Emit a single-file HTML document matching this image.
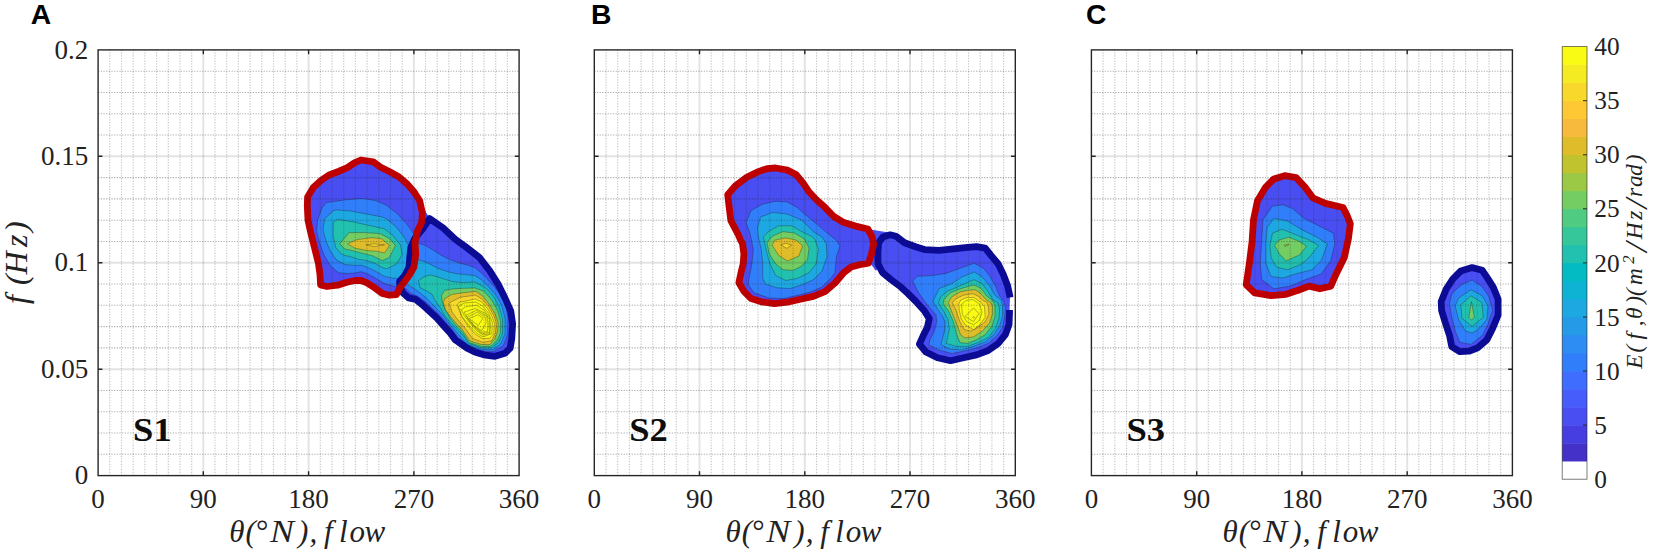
<!DOCTYPE html><html><head><meta charset="utf-8"><title>Figure</title><style>html,body{margin:0;padding:0;background:#fff}svg{display:block}text{font-family:"Liberation Serif","DejaVu Serif",serif;fill:#222}.it{font-style:italic}.tk{font-size:27px}</style></head><body>
<svg width="1654" height="553" viewBox="0 0 1654 553">
<rect width="1654" height="553" fill="#fff"/>
<g>
<clipPath id="cAr"><polygon points="360.9,160.0 373.2,161.8 380.3,167.0 389.7,171.7 399.1,177.0 407.3,184.1 414.3,192.3 419.6,200.5 422.4,213.1 421.7,222.1 417.5,231.2 415.1,242.0 415.7,254.7 413.9,267.3 408.5,276.4 400.3,287.2 396.4,294.6 389.3,295.2 382.3,293.5 375.2,288.2 367.0,282.9 361.1,280.5 355.2,280.5 347.0,282.3 337.6,285.2 327.0,286.5 320.6,285.0 320.0,274.6 318.5,263.7 315.8,252.9 313.1,242.0 310.4,231.2 308.0,220.3 307.3,205.8 307.6,197.0 313.3,187.6 321.5,180.0 329.7,174.7 339.1,171.2 347.4,167.6 354.4,162.9"/></clipPath>
<polygon points="360.9,160.0 373.2,161.8 380.3,167.0 389.7,171.7 399.1,177.0 407.3,184.1 414.3,192.3 419.6,200.5 422.4,213.1 421.7,222.1 417.5,231.2 415.1,242.0 415.7,254.7 413.9,267.3 408.5,276.4 400.3,287.2 396.4,294.6 389.3,295.2 382.3,293.5 375.2,288.2 367.0,282.9 361.1,280.5 355.2,280.5 347.0,282.3 337.6,285.2 327.0,286.5 320.6,285.0 320.0,274.6 318.5,263.7 315.8,252.9 313.1,242.0 310.4,231.2 308.0,220.3 307.3,205.8 307.6,197.0 313.3,187.6 321.5,180.0 329.7,174.7 339.1,171.2 347.4,167.6 354.4,162.9" fill="#484ef1"/>
<g clip-path="url(#cAr)">
<polygon points="322.1,207.7 326.4,202.6 345.0,199.9 362.0,198.4 375.6,200.5 385.8,204.9 396.7,213.1 407.5,224.8 413.9,233.9 425.0,240.0 425.0,285.0 400.0,288.0 392.8,285.8 384.6,283.5 376.4,278.8 368.2,274.1 361.1,271.7 355.2,272.9 347.0,273.5 338.4,272.8 330.3,265.5 323.9,254.7 319.4,242.0 316.7,231.2 317.6,220.3" fill="#317efb" stroke="#1a1a1a" stroke-opacity="0.5" stroke-width="0.65" stroke-linejoin="round"/>
<polygon points="333.9,210.4 336.8,209.9 350.9,211.1 363.8,213.5 381.6,216.9 385.8,218.5 394.9,225.7 403.9,236.6 409.4,247.4 425.0,250.0 425.0,280.0 402.0,278.5 392.8,278.2 384.6,276.4 377.6,272.3 369.3,268.2 362.3,265.3 355.2,265.3 345.0,264.6 336.6,260.1 330.3,251.1 325.7,240.2 323.0,229.4 324.8,218.5" fill="#1ea8e1" stroke="#1a1a1a" stroke-opacity="0.5" stroke-width="0.65" stroke-linejoin="round"/>
<polygon points="337.5,219.4 352.3,221.7 367.0,225.0 381.6,228.2 384.0,228.5 393.1,235.7 400.3,244.7 402.1,254.7 396.7,263.7 387.0,268.8 382.3,267.6 375.2,263.5 367.0,260.6 358.8,259.4 349.4,256.3 345.0,255.6 341.1,253.8 335.7,247.4 333.0,234.8 333.3,222.1" fill="#22c1af" stroke="#1a1a1a" stroke-opacity="0.5" stroke-width="0.65" stroke-linejoin="round"/>
<polygon points="339.8,243.8 349.1,232.6 363.7,232.6 380.0,233.6 389.7,238.8 395.4,245.5 389.3,257.6 382.3,260.6 372.9,255.9 361.1,252.9 349.4,249.9 345.0,249.2" fill="#73cd63" stroke="#1a1a1a" stroke-opacity="0.5" stroke-width="0.65" stroke-linejoin="round"/>
<polygon points="347.6,243.8 357.2,239.6 371.8,237.7 381.6,238.8 389.4,245.5 384.6,252.9 376.4,251.2 367.0,250.6 355.2,248.2" fill="#dfbc2a" stroke="#1a1a1a" stroke-opacity="0.5" stroke-width="0.65" stroke-linejoin="round"/>
<polygon points="365.8,244.9 374.0,243.8 384.6,244.9 374.0,246.5" fill="#f8d92b" stroke="#1a1a1a" stroke-opacity="0.5" stroke-width="0.65" stroke-linejoin="round"/>
</g>
<clipPath id="cAb"><polygon points="429.6,218.6 442.9,227.7 455.2,239.3 465.6,246.8 479.1,257.2 489.6,270.6 498.8,285.4 505.2,298.5 510.8,311.2 512.6,323.7 511.8,338.4 510.2,348.1 505.0,353.3 495.0,356.3 483.8,354.8 474.8,351.9 467.1,348.1 459.0,342.4 455.3,340.0 450.4,333.2 443.3,325.4 436.8,318.0 429.7,311.5 422.7,305.0 415.6,299.3 408.6,297.9 403.1,293.0 400.0,287.5 399.5,281.5 404.8,275.5 409.0,267.3 409.7,258.3 410.8,247.4 414.8,238.4 422.9,228.5 420.5,204.0 431.0,220.0 422.0,224.0"/></clipPath>
<polygon points="429.6,218.6 442.9,227.7 455.2,239.3 465.6,246.8 479.1,257.2 489.6,270.6 498.8,285.4 505.2,298.5 510.8,311.2 512.6,323.7 511.8,338.4 510.2,348.1 505.0,353.3 495.0,356.3 483.8,354.8 474.8,351.9 467.1,348.1 459.0,342.4 455.3,340.0 450.4,333.2 443.3,325.4 436.8,318.0 429.7,311.5 422.7,305.0 415.6,299.3 408.6,297.9 403.1,293.0 400.0,287.5 399.5,281.5 404.8,275.5 409.0,267.3 409.7,258.3 410.8,247.4 414.8,238.4 422.9,228.5" fill="#484ef1"/>
<polygon points="420.5,204.0 431.0,220.0 422.0,224.0" fill="#484ef1"/>
<g clip-path="url(#cAb)">
<polygon points="395.0,236.0 425.0,245.3 432.6,249.7 441.5,255.4 450.3,259.8 459.2,263.0 468.0,265.2 475.5,268.0 484.0,275.3 493.6,286.0 500.5,294.4 505.4,304.8 508.0,317.9 507.7,334.4 503.2,345.8 493.7,351.5 481.7,350.8 467.7,346.5 459.4,339.3 452.9,330.6 446.0,322.3 439.5,314.7 433.0,308.8 425.4,301.7 417.8,296.3 411.3,293.6 405.9,288.7 395.0,285.0" fill="#317efb" stroke="#1a1a1a" stroke-opacity="0.5" stroke-width="0.65" stroke-linejoin="round"/>
<polygon points="395.0,253.0 425.0,261.7 431.3,264.9 438.9,268.7 447.8,271.8 456.6,273.7 465.5,274.6 475.0,275.6 481.7,280.0 489.3,287.5 496.9,296.4 502.0,306.5 505.1,318.5 505.1,333.7 500.7,343.9 493.1,349.6 481.7,349.3 468.6,345.0 461.2,337.6 454.7,330.0 448.5,322.6 442.8,314.7 437.3,309.3 430.8,302.3 424.3,296.3 416.7,290.3 409.1,285.4 395.0,280.0" fill="#1ea8e1" stroke="#1a1a1a" stroke-opacity="0.5" stroke-width="0.65" stroke-linejoin="round"/>
<polygon points="418.5,280.5 425.0,276.3 430.7,275.0 437.7,276.9 445.3,279.4 452.8,281.7 463.0,282.6 475.0,282.0 486.8,288.8 494.4,297.7 499.4,307.8 502.6,319.2 502.6,333.1 498.8,342.0 491.8,347.7 481.7,347.9 468.8,343.5 463.5,335.8 457.6,329.8 451.0,323.3 445.0,315.7 440.6,308.2 435.2,300.6 431.9,294.1 426.5,290.9 420.0,287.6" fill="#22c1af" stroke="#1a1a1a" stroke-opacity="0.5" stroke-width="0.65" stroke-linejoin="round"/>
<polygon points="441.5,295.5 444.5,290.5 452.8,288.9 463.0,288.3 475.0,287.9 484.2,291.3 491.8,300.2 497.5,310.3 500.7,321.7 500.3,333.1 496.9,340.7 490.6,346.3 481.7,346.4 469.5,342.8 462.4,332.0 455.9,325.5 449.8,317.5 445.2,310.1 442.2,301.7" fill="#73cd63" stroke="#1a1a1a" stroke-opacity="0.5" stroke-width="0.65" stroke-linejoin="round"/>
<polygon points="443.3,302.3 444.9,298.5 451.5,294.6 458.0,293.4 476.0,291.3 483.0,296.4 489.9,305.3 495.0,314.1 498.2,323.0 497.5,331.8 495.0,338.2 489.9,344.5 481.7,344.6 470.0,341.0 462.2,329.5 457.3,324.6 451.0,317.3 445.5,309.8" fill="#dfbc2a" stroke="#1a1a1a" stroke-opacity="0.5" stroke-width="0.65" stroke-linejoin="round"/>
<polygon points="449.3,303.3 451.5,301.7 460.1,297.4 475.4,295.1 481.7,298.9 488.7,306.5 493.7,315.4 496.3,323.0 495.6,332.5 491.8,340.6 483.0,342.4 472.6,338.4 462.9,325.5 458.0,320.1 452.0,312.0" fill="#f8d92b" stroke="#1a1a1a" stroke-opacity="0.5" stroke-width="0.65" stroke-linejoin="round"/>
<polygon points="457.4,305.0 459.1,302.3 465.0,301.2 475.4,298.9 481.7,302.1 487.4,308.4 491.8,316.0 494.4,323.6 493.7,333.7 489.9,338.2 483.0,338.8 475.4,334.4 468.5,326.5 463.0,318.5 459.5,311.0" fill="#f9fb15" stroke="#1a1a1a" stroke-opacity="0.5" stroke-width="0.65" stroke-linejoin="round"/>
<polygon points="458.3,306.5 464.0,303.0 476.0,302.1 483.0,306.3 488.7,313.5 492.5,323.0 491.8,333.7 483.0,336.9 476.6,333.1 469.1,325.5 462.1,316.6" fill="#f9fb15" stroke="#1a1a1a" stroke-opacity="0.5" stroke-width="0.65" stroke-linejoin="round"/>
<polygon points="461.5,309.7 465.9,306.5 476.6,305.3 484.2,310.3 489.3,316.6 490.6,325.5 489.9,333.7 483.0,335.0 477.3,331.2 470.3,323.6 464.0,315.4" fill="#f9fb15" stroke="#1a1a1a" stroke-opacity="0.5" stroke-width="0.65" stroke-linejoin="round"/>
<polygon points="464.0,312.2 475.4,308.4 485.5,313.5 489.3,319.2 489.3,332.5 482.3,333.7 476.6,329.3 469.7,321.7" fill="#f9fb15" stroke="#1a1a1a" stroke-opacity="0.5" stroke-width="0.65" stroke-linejoin="round"/>
<polygon points="465.9,315.4 476.6,310.3 486.8,316.0 488.0,323.0 487.4,331.8 481.7,332.1 475.4,327.4" fill="#f9fb15" stroke="#1a1a1a" stroke-opacity="0.5" stroke-width="0.65" stroke-linejoin="round"/>
<polygon points="467.2,317.3 477.3,312.2 485.5,317.3 486.1,323.0 481.7,330.6 474.7,326.1" fill="#f9fb15" stroke="#1a1a1a" stroke-opacity="0.5" stroke-width="0.65" stroke-linejoin="round"/>
<polygon points="469.1,318.5 477.9,314.7 483.0,318.2 478.2,325.5" fill="#f9fb15" stroke="#1a1a1a" stroke-opacity="0.5" stroke-width="0.65" stroke-linejoin="round"/>
</g>
<polygon points="429.6,218.6 442.9,227.7 455.2,239.3 465.6,246.8 479.1,257.2 489.6,270.6 498.8,285.4 505.2,298.5 510.8,311.2 512.6,323.7 511.8,338.4 510.2,348.1 505.0,353.3 495.0,356.3 483.8,354.8 474.8,351.9 467.1,348.1 459.0,342.4 455.3,340.0 450.4,333.2 443.3,325.4 436.8,318.0 429.7,311.5 422.7,305.0 415.6,299.3 408.6,297.9 403.1,293.0 400.0,287.5 399.5,281.5 404.8,275.5 409.0,267.3 409.7,258.3 410.8,247.4 414.8,238.4 422.9,228.5" fill="none" stroke="#0b0b96" stroke-width="6.8" stroke-linejoin="round"/>
<polygon points="360.9,160.0 373.2,161.8 380.3,167.0 389.7,171.7 399.1,177.0 407.3,184.1 414.3,192.3 419.6,200.5 422.4,213.1 421.7,222.1 417.5,231.2 415.1,242.0 415.7,254.7 413.9,267.3 408.5,276.4 400.3,287.2 396.4,294.6 389.3,295.2 382.3,293.5 375.2,288.2 367.0,282.9 361.1,280.5 355.2,280.5 347.0,282.3 337.6,285.2 327.0,286.5 320.6,285.0 320.0,274.6 318.5,263.7 315.8,252.9 313.1,242.0 310.4,231.2 308.0,220.3 307.3,205.8 307.6,197.0 313.3,187.6 321.5,180.0 329.7,174.7 339.1,171.2 347.4,167.6 354.4,162.9" fill="none" stroke="#c00000" stroke-width="6.8" stroke-linejoin="round"/>
</g>
<line x1="109.8" y1="49.9" x2="109.8" y2="475.6" stroke="#262626" stroke-opacity="0.29" stroke-width="1.1" stroke-dasharray="1.15 1.52"/><line x1="121.5" y1="49.9" x2="121.5" y2="475.6" stroke="#262626" stroke-opacity="0.29" stroke-width="1.1" stroke-dasharray="1.15 1.52"/><line x1="133.2" y1="49.9" x2="133.2" y2="475.6" stroke="#262626" stroke-opacity="0.29" stroke-width="1.1" stroke-dasharray="1.15 1.52"/><line x1="144.9" y1="49.9" x2="144.9" y2="475.6" stroke="#262626" stroke-opacity="0.29" stroke-width="1.1" stroke-dasharray="1.15 1.52"/><line x1="156.6" y1="49.9" x2="156.6" y2="475.6" stroke="#262626" stroke-opacity="0.29" stroke-width="1.1" stroke-dasharray="1.15 1.52"/><line x1="168.3" y1="49.9" x2="168.3" y2="475.6" stroke="#262626" stroke-opacity="0.29" stroke-width="1.1" stroke-dasharray="1.15 1.52"/><line x1="180.0" y1="49.9" x2="180.0" y2="475.6" stroke="#262626" stroke-opacity="0.29" stroke-width="1.1" stroke-dasharray="1.15 1.52"/><line x1="191.7" y1="49.9" x2="191.7" y2="475.6" stroke="#262626" stroke-opacity="0.29" stroke-width="1.1" stroke-dasharray="1.15 1.52"/><line x1="203.3" y1="49.9" x2="203.3" y2="475.6" stroke="#262626" stroke-opacity="0.13" stroke-width="1.9"/><line x1="215.0" y1="49.9" x2="215.0" y2="475.6" stroke="#262626" stroke-opacity="0.29" stroke-width="1.1" stroke-dasharray="1.15 1.52"/><line x1="226.7" y1="49.9" x2="226.7" y2="475.6" stroke="#262626" stroke-opacity="0.29" stroke-width="1.1" stroke-dasharray="1.15 1.52"/><line x1="238.4" y1="49.9" x2="238.4" y2="475.6" stroke="#262626" stroke-opacity="0.29" stroke-width="1.1" stroke-dasharray="1.15 1.52"/><line x1="250.1" y1="49.9" x2="250.1" y2="475.6" stroke="#262626" stroke-opacity="0.29" stroke-width="1.1" stroke-dasharray="1.15 1.52"/><line x1="261.8" y1="49.9" x2="261.8" y2="475.6" stroke="#262626" stroke-opacity="0.29" stroke-width="1.1" stroke-dasharray="1.15 1.52"/><line x1="273.5" y1="49.9" x2="273.5" y2="475.6" stroke="#262626" stroke-opacity="0.29" stroke-width="1.1" stroke-dasharray="1.15 1.52"/><line x1="285.2" y1="49.9" x2="285.2" y2="475.6" stroke="#262626" stroke-opacity="0.29" stroke-width="1.1" stroke-dasharray="1.15 1.52"/><line x1="296.9" y1="49.9" x2="296.9" y2="475.6" stroke="#262626" stroke-opacity="0.29" stroke-width="1.1" stroke-dasharray="1.15 1.52"/><line x1="308.6" y1="49.9" x2="308.6" y2="475.6" stroke="#262626" stroke-opacity="0.13" stroke-width="1.9"/><line x1="320.3" y1="49.9" x2="320.3" y2="475.6" stroke="#262626" stroke-opacity="0.29" stroke-width="1.1" stroke-dasharray="1.15 1.52"/><line x1="332.0" y1="49.9" x2="332.0" y2="475.6" stroke="#262626" stroke-opacity="0.29" stroke-width="1.1" stroke-dasharray="1.15 1.52"/><line x1="343.7" y1="49.9" x2="343.7" y2="475.6" stroke="#262626" stroke-opacity="0.29" stroke-width="1.1" stroke-dasharray="1.15 1.52"/><line x1="355.4" y1="49.9" x2="355.4" y2="475.6" stroke="#262626" stroke-opacity="0.29" stroke-width="1.1" stroke-dasharray="1.15 1.52"/><line x1="367.1" y1="49.9" x2="367.1" y2="475.6" stroke="#262626" stroke-opacity="0.29" stroke-width="1.1" stroke-dasharray="1.15 1.52"/><line x1="378.8" y1="49.9" x2="378.8" y2="475.6" stroke="#262626" stroke-opacity="0.29" stroke-width="1.1" stroke-dasharray="1.15 1.52"/><line x1="390.5" y1="49.9" x2="390.5" y2="475.6" stroke="#262626" stroke-opacity="0.29" stroke-width="1.1" stroke-dasharray="1.15 1.52"/><line x1="402.2" y1="49.9" x2="402.2" y2="475.6" stroke="#262626" stroke-opacity="0.29" stroke-width="1.1" stroke-dasharray="1.15 1.52"/><line x1="413.9" y1="49.9" x2="413.9" y2="475.6" stroke="#262626" stroke-opacity="0.13" stroke-width="1.9"/><line x1="425.5" y1="49.9" x2="425.5" y2="475.6" stroke="#262626" stroke-opacity="0.29" stroke-width="1.1" stroke-dasharray="1.15 1.52"/><line x1="437.2" y1="49.9" x2="437.2" y2="475.6" stroke="#262626" stroke-opacity="0.29" stroke-width="1.1" stroke-dasharray="1.15 1.52"/><line x1="448.9" y1="49.9" x2="448.9" y2="475.6" stroke="#262626" stroke-opacity="0.29" stroke-width="1.1" stroke-dasharray="1.15 1.52"/><line x1="460.6" y1="49.9" x2="460.6" y2="475.6" stroke="#262626" stroke-opacity="0.29" stroke-width="1.1" stroke-dasharray="1.15 1.52"/><line x1="472.3" y1="49.9" x2="472.3" y2="475.6" stroke="#262626" stroke-opacity="0.29" stroke-width="1.1" stroke-dasharray="1.15 1.52"/><line x1="484.0" y1="49.9" x2="484.0" y2="475.6" stroke="#262626" stroke-opacity="0.29" stroke-width="1.1" stroke-dasharray="1.15 1.52"/><line x1="495.7" y1="49.9" x2="495.7" y2="475.6" stroke="#262626" stroke-opacity="0.29" stroke-width="1.1" stroke-dasharray="1.15 1.52"/><line x1="507.4" y1="49.9" x2="507.4" y2="475.6" stroke="#262626" stroke-opacity="0.29" stroke-width="1.1" stroke-dasharray="1.15 1.52"/><line x1="98.1" y1="454.3" x2="519.1" y2="454.3" stroke="#262626" stroke-opacity="0.40" stroke-width="1.1" stroke-dasharray="1.15 1.52"/><line x1="98.1" y1="433.0" x2="519.1" y2="433.0" stroke="#262626" stroke-opacity="0.40" stroke-width="1.1" stroke-dasharray="1.15 1.52"/><line x1="98.1" y1="411.7" x2="519.1" y2="411.7" stroke="#262626" stroke-opacity="0.40" stroke-width="1.1" stroke-dasharray="1.15 1.52"/><line x1="98.1" y1="390.5" x2="519.1" y2="390.5" stroke="#262626" stroke-opacity="0.40" stroke-width="1.1" stroke-dasharray="1.15 1.52"/><line x1="98.1" y1="369.2" x2="519.1" y2="369.2" stroke="#262626" stroke-opacity="0.13" stroke-width="1.9"/><line x1="98.1" y1="347.9" x2="519.1" y2="347.9" stroke="#262626" stroke-opacity="0.40" stroke-width="1.1" stroke-dasharray="1.15 1.52"/><line x1="98.1" y1="326.6" x2="519.1" y2="326.6" stroke="#262626" stroke-opacity="0.40" stroke-width="1.1" stroke-dasharray="1.15 1.52"/><line x1="98.1" y1="305.3" x2="519.1" y2="305.3" stroke="#262626" stroke-opacity="0.40" stroke-width="1.1" stroke-dasharray="1.15 1.52"/><line x1="98.1" y1="284.0" x2="519.1" y2="284.0" stroke="#262626" stroke-opacity="0.40" stroke-width="1.1" stroke-dasharray="1.15 1.52"/><line x1="98.1" y1="262.8" x2="519.1" y2="262.8" stroke="#262626" stroke-opacity="0.13" stroke-width="1.9"/><line x1="98.1" y1="241.5" x2="519.1" y2="241.5" stroke="#262626" stroke-opacity="0.40" stroke-width="1.1" stroke-dasharray="1.15 1.52"/><line x1="98.1" y1="220.2" x2="519.1" y2="220.2" stroke="#262626" stroke-opacity="0.40" stroke-width="1.1" stroke-dasharray="1.15 1.52"/><line x1="98.1" y1="198.9" x2="519.1" y2="198.9" stroke="#262626" stroke-opacity="0.40" stroke-width="1.1" stroke-dasharray="1.15 1.52"/><line x1="98.1" y1="177.6" x2="519.1" y2="177.6" stroke="#262626" stroke-opacity="0.40" stroke-width="1.1" stroke-dasharray="1.15 1.52"/><line x1="98.1" y1="156.3" x2="519.1" y2="156.3" stroke="#262626" stroke-opacity="0.13" stroke-width="1.9"/><line x1="98.1" y1="135.0" x2="519.1" y2="135.0" stroke="#262626" stroke-opacity="0.40" stroke-width="1.1" stroke-dasharray="1.15 1.52"/><line x1="98.1" y1="113.8" x2="519.1" y2="113.8" stroke="#262626" stroke-opacity="0.40" stroke-width="1.1" stroke-dasharray="1.15 1.52"/><line x1="98.1" y1="92.5" x2="519.1" y2="92.5" stroke="#262626" stroke-opacity="0.40" stroke-width="1.1" stroke-dasharray="1.15 1.52"/><line x1="98.1" y1="71.2" x2="519.1" y2="71.2" stroke="#262626" stroke-opacity="0.40" stroke-width="1.1" stroke-dasharray="1.15 1.52"/>
<rect x="98.1" y="49.9" width="421.0" height="425.7" fill="none" stroke="#262626" stroke-width="1.4"/>
<path d="M203.3 49.9v4.3M203.3 475.6v-4.3M308.6 49.9v4.3M308.6 475.6v-4.3M413.9 49.9v4.3M413.9 475.6v-4.3M98.1 369.2h4.3M519.1 369.2h-4.3M98.1 262.8h4.3M519.1 262.8h-4.3M98.1 156.3h4.3M519.1 156.3h-4.3" stroke="#262626" stroke-width="1.4" fill="none"/>
<text class="tk" x="98.1" y="508.2" text-anchor="middle">0</text>
<text class="tk" x="203.3" y="508.2" text-anchor="middle">90</text>
<text class="tk" x="308.6" y="508.2" text-anchor="middle">180</text>
<text class="tk" x="413.9" y="508.2" text-anchor="middle">270</text>
<text class="tk" x="519.1" y="508.2" text-anchor="middle">360</text>
<text class="it" font-size="31" y="541.9" x="229.3 245.5 255.0">θ(°</text>
<text class="it" font-size="31" transform="translate(270.0,541.9) scale(1.16,1)">N</text>
<text class="it" font-size="31" y="541.9" x="298.0 309.5 324.0 339.0 349.5 364.5">),flow</text>
<text transform="translate(133.1,441) scale(1.09,1)" font-size="33.5" font-weight="bold" style="fill:#0d0d0d">S1</text>
<g>
<clipPath id="cBr"><polygon points="775.7,168.0 787.3,170.1 796.0,174.5 803.2,183.1 809.0,191.8 816.2,199.5 824.9,207.3 833.8,216.5 843.9,222.6 855.5,226.1 867.8,229.0 872.1,236.9 873.6,244.2 871.4,254.3 868.5,263.2 859.8,264.6 851.1,267.0 843.9,272.5 835.0,283.0 824.9,291.6 813.3,296.4 800.3,299.3 787.3,302.2 774.3,303.7 761.3,301.8 751.1,298.6 743.9,291.4 738.9,282.7 741.0,272.6 743.2,263.9 743.9,253.8 742.5,243.7 740.5,240.0 738.9,236.0 730.9,220.7 728.7,203.4 727.7,194.7 735.2,186.0 746.8,177.3 758.4,171.6 767.0,168.7"/></clipPath>
<polygon points="775.7,168.0 787.3,170.1 796.0,174.5 803.2,183.1 809.0,191.8 816.2,199.5 824.9,207.3 833.8,216.5 843.9,222.6 855.5,226.1 867.8,229.0 872.1,236.9 873.6,244.2 871.4,254.3 868.5,263.2 859.8,264.6 851.1,267.0 843.9,272.5 835.0,283.0 824.9,291.6 813.3,296.4 800.3,299.3 787.3,302.2 774.3,303.7 761.3,301.8 751.1,298.6 743.9,291.4 738.9,282.7 741.0,272.6 743.2,263.9 743.9,253.8 742.5,243.7 740.5,240.0 738.9,236.0 730.9,220.7 728.7,203.4 727.7,194.7 735.2,186.0 746.8,177.3 758.4,171.6 767.0,168.7" fill="#484ef1"/>
<g clip-path="url(#cBr)">
<polygon points="746.1,222.2 751.1,210.6 762.7,204.1 775.7,201.2 787.3,201.9 797.4,207.7 807.5,216.4 816.2,223.6 826.3,232.3 836.0,240.0 840.0,246.0 836.5,256.0 835.0,272.6 830.7,278.4 822.0,287.0 810.4,292.1 796.0,295.7 783.0,298.6 768.5,297.9 754.0,292.8 748.3,284.9 749.0,278.4 751.9,263.9 753.3,249.5 750.4,235.0" fill="#317efb" stroke="#1a1a1a" stroke-opacity="0.5" stroke-width="0.65" stroke-linejoin="round"/>
<polygon points="758.4,237.0 757.5,228.0 760.5,217.0 772.5,212.5 787.0,214.0 801.5,220.0 813.3,231.6 822.0,237.0 826.3,243.7 827.0,256.7 822.0,271.1 813.3,279.8 801.7,284.9 790.2,288.5 777.2,287.8 765.6,284.2 762.7,278.4 762.7,263.9 761.3,249.5" fill="#1ea8e1" stroke="#1a1a1a" stroke-opacity="0.5" stroke-width="0.65" stroke-linejoin="round"/>
<polygon points="763.4,237.0 768.5,231.6 778.6,225.8 791.6,225.8 801.7,231.6 811.9,236.5 814.8,239.3 818.4,249.5 816.2,263.9 809.0,272.6 797.4,278.4 785.8,280.5 775.7,275.5 769.9,263.9 766.3,250.9" fill="#22c1af" stroke="#1a1a1a" stroke-opacity="0.5" stroke-width="0.65" stroke-linejoin="round"/>
<polygon points="767.0,242.2 772.8,236.0 782.9,231.6 794.5,233.1 800.3,236.5 804.6,239.3 809.0,248.0 807.5,259.6 801.7,266.1 793.1,270.4 783.0,269.7 775.7,263.9 769.2,253.8" fill="#73cd63" stroke="#1a1a1a" stroke-opacity="0.5" stroke-width="0.65" stroke-linejoin="round"/>
<polygon points="772.1,245.1 775.0,240.1 785.8,237.9 796.0,240.1 802.5,245.8 798.9,256.0 787.3,261.0 778.6,255.2" fill="#dfbc2a" stroke="#1a1a1a" stroke-opacity="0.5" stroke-width="0.65" stroke-linejoin="round"/>
<polygon points="780.8,244.8 785.8,243.4 791.6,245.1 786.6,248.3" fill="#f8d92b" stroke="#1a1a1a" stroke-opacity="0.5" stroke-width="0.65" stroke-linejoin="round"/>
</g>
<clipPath id="cBb"><polygon points="1010.0,297.5 1009.8,295.8 1007.6,285.7 1003.2,274.2 998.2,264.0 991.0,255.4 985.2,248.1 976.5,246.7 967.8,247.4 953.4,248.9 938.9,250.3 924.5,249.6 916.2,247.0 904.6,242.7 896.0,236.2 890.2,234.8 883.0,236.9 878.6,242.7 877.9,252.8 878.0,263.7 882.3,272.3 891.0,279.6 899.7,286.1 908.4,294.0 917.0,302.7 924.3,310.7 929.3,318.6 927.3,327.5 923.0,336.1 919.4,344.1 925.9,352.0 937.5,357.8 950.5,360.7 963.5,357.8 976.5,354.9 988.1,350.6 998.2,343.4 1005.4,334.7 1009.0,324.6 1009.5,313.0 1009.5,310.0"/></clipPath>
<polygon points="870.5,229.4 887.3,232.3 891.0,236.0 880.0,240.0 878.0,252.8 880.0,264.4 876.0,271.0 870.0,263.0 874.0,245.0" fill="#484ef1"/>
<polygon points="1010.0,297.5 1009.8,295.8 1007.6,285.7 1003.2,274.2 998.2,264.0 991.0,255.4 985.2,248.1 976.5,246.7 967.8,247.4 953.4,248.9 938.9,250.3 924.5,249.6 916.2,247.0 904.6,242.7 896.0,236.2 890.2,234.8 883.0,236.9 878.6,242.7 877.9,252.8 878.0,263.7 882.3,272.3 891.0,279.6 899.7,286.1 908.4,294.0 917.0,302.7 924.3,310.7 929.3,318.6 927.3,327.5 923.0,336.1 919.4,344.1 925.9,352.0 937.5,357.8 950.5,360.7 963.5,357.8 976.5,354.9 988.1,350.6 998.2,343.4 1005.4,334.7 1009.0,324.6 1009.5,313.0 1009.5,310.0" fill="#484ef1"/>
<g clip-path="url(#cBb)">
<polygon points="912.7,281.0 917.2,276.3 931.7,275.6 946.1,273.4 957.7,269.1 967.8,265.5 974.3,263.3 983.7,268.4 989.5,275.6 995.3,285.7 999.6,295.8 1004.0,302.0 1005.4,307.2 1004.7,317.3 1002.5,327.5 996.7,336.1 988.1,343.4 975.1,348.4 963.5,351.3 951.9,353.5 938.9,349.9 928.8,344.8 930.2,339.0 934.6,330.4 936.7,321.7 936.0,314.5 932.9,311.4 925.7,302.7 918.5,292.6" fill="#317efb" stroke="#1a1a1a" stroke-opacity="0.5" stroke-width="0.65" stroke-linejoin="round"/>
<polygon points="932.9,301.3 937.3,292.6 938.9,288.6 950.5,284.3 962.0,277.0 974.3,272.0 982.3,277.0 989.5,285.7 995.3,295.8 1001.1,300.0 1002.5,305.8 1002.5,315.9 999.6,326.0 993.9,334.7 985.2,341.9 973.6,346.3 962.0,349.9 950.5,349.2 941.1,344.8 942.5,339.0 944.7,330.4 945.0,322.0 942.5,316.0 937.3,308.5" fill="#1ea8e1" stroke="#1a1a1a" stroke-opacity="0.5" stroke-width="0.65" stroke-linejoin="round"/>
<polygon points="938.5,303.0 940.6,297.0 947.5,291.0 959.0,286.3 968.0,282.3 974.0,279.7 982.0,283.5 988.1,291.5 993.1,300.2 998.2,303.0 999.6,308.7 998.9,318.8 995.3,328.9 988.1,337.6 977.9,342.6 967.8,346.3 956.3,346.3 946.1,343.4 947.6,337.6 949.3,329.0 948.0,319.0 943.5,311.0" fill="#22c1af" stroke="#1a1a1a" stroke-opacity="0.5" stroke-width="0.65" stroke-linejoin="round"/>
<polygon points="943.1,304.2 944.0,299.5 950.3,292.8 958.0,289.5 966.4,287.0 973.6,285.0 980.8,288.0 986.6,295.8 993.0,301.0 995.0,306.0 995.0,316.0 992.0,326.0 985.2,334.7 976.5,339.8 967.8,343.4 959.9,342.6 956.3,333.3 953.4,321.7 948.3,310.5" fill="#73cd63" stroke="#1a1a1a" stroke-opacity="0.5" stroke-width="0.65" stroke-linejoin="round"/>
<polygon points="948.1,302.7 951.7,296.9 960.0,292.0 968.0,290.2 975.1,289.9 980.0,292.8 985.9,299.5 990.5,302.5 992.4,306.0 992.4,314.5 989.5,323.1 982.3,331.1 973.6,336.9 964.9,337.9 960.6,334.7 956.3,323.1 951.9,312.0" fill="#dfbc2a" stroke="#1a1a1a" stroke-opacity="0.5" stroke-width="0.65" stroke-linejoin="round"/>
<polygon points="952.5,302.7 955.6,298.8 963.4,295.2 973.0,293.7 978.5,296.4 983.6,301.0 986.5,302.0 988.5,306.0 988.8,314.5 985.2,321.7 977.9,327.5 970.7,331.1 964.2,329.6 959.9,321.7 956.3,311.0" fill="#f8d92b" stroke="#1a1a1a" stroke-opacity="0.5" stroke-width="0.65" stroke-linejoin="round"/>
<polygon points="959.0,303.4 960.8,300.0 967.0,297.4 974.0,297.6 978.6,300.8 981.0,302.5 984.5,307.0 985.2,317.3 979.4,325.3 973.6,329.6 965.7,325.3 961.3,318.8 959.2,310.1" fill="#f9fb15" stroke="#1a1a1a" stroke-opacity="0.5" stroke-width="0.65" stroke-linejoin="round"/>
<polygon points="961.5,304.5 966.0,300.5 972.7,299.5 979.5,304.0 982.0,312.0 979.5,320.2 973.5,324.8 966.5,321.5 962.3,314.0" fill="#f9fb15" stroke="#1a1a1a" stroke-opacity="0.5" stroke-width="0.65" stroke-linejoin="round"/>
<polygon points="965.2,316.5 973.5,307.9 979.0,313.6 973.5,321.6" fill="#f9fb15" stroke="#1a1a1a" stroke-opacity="0.5" stroke-width="0.65" stroke-linejoin="round"/>
<polygon points="972.7,317.3 973.7,316.3 974.7,317.3 973.7,318.3" fill="#f9fb15" stroke="#1a1a1a" stroke-opacity="0.5" stroke-width="0.65" stroke-linejoin="round"/>
</g>
<polyline points="1010.0,297.5 1009.8,295.8 1007.6,285.7 1003.2,274.2 998.2,264.0 991.0,255.4 985.2,248.1 976.5,246.7 967.8,247.4 953.4,248.9 938.9,250.3 924.5,249.6 916.2,247.0 904.6,242.7 896.0,236.2 890.2,234.8 883.0,236.9 878.6,242.7 877.9,252.8 878.0,263.7 882.3,272.3 891.0,279.6 899.7,286.1 908.4,294.0 917.0,302.7 924.3,310.7 929.3,318.6 927.3,327.5 923.0,336.1 919.4,344.1 925.9,352.0 937.5,357.8 950.5,360.7 963.5,357.8 976.5,354.9 988.1,350.6 998.2,343.4 1005.4,334.7 1009.0,324.6 1009.5,313.0 1009.5,310.0" fill="none" stroke="#0b0b96" stroke-width="6.8" stroke-linejoin="round"/>
<polygon points="775.7,168.0 787.3,170.1 796.0,174.5 803.2,183.1 809.0,191.8 816.2,199.5 824.9,207.3 833.8,216.5 843.9,222.6 855.5,226.1 867.8,229.0 872.1,236.9 873.6,244.2 871.4,254.3 868.5,263.2 859.8,264.6 851.1,267.0 843.9,272.5 835.0,283.0 824.9,291.6 813.3,296.4 800.3,299.3 787.3,302.2 774.3,303.7 761.3,301.8 751.1,298.6 743.9,291.4 738.9,282.7 741.0,272.6 743.2,263.9 743.9,253.8 742.5,243.7 740.5,240.0 738.9,236.0 730.9,220.7 728.7,203.4 727.7,194.7 735.2,186.0 746.8,177.3 758.4,171.6 767.0,168.7" fill="none" stroke="#c00000" stroke-width="6.8" stroke-linejoin="round"/>
</g>
<line x1="606.0" y1="49.9" x2="606.0" y2="475.6" stroke="#262626" stroke-opacity="0.29" stroke-width="1.1" stroke-dasharray="1.15 1.52"/><line x1="617.7" y1="49.9" x2="617.7" y2="475.6" stroke="#262626" stroke-opacity="0.29" stroke-width="1.1" stroke-dasharray="1.15 1.52"/><line x1="629.4" y1="49.9" x2="629.4" y2="475.6" stroke="#262626" stroke-opacity="0.29" stroke-width="1.1" stroke-dasharray="1.15 1.52"/><line x1="641.1" y1="49.9" x2="641.1" y2="475.6" stroke="#262626" stroke-opacity="0.29" stroke-width="1.1" stroke-dasharray="1.15 1.52"/><line x1="652.8" y1="49.9" x2="652.8" y2="475.6" stroke="#262626" stroke-opacity="0.29" stroke-width="1.1" stroke-dasharray="1.15 1.52"/><line x1="664.5" y1="49.9" x2="664.5" y2="475.6" stroke="#262626" stroke-opacity="0.29" stroke-width="1.1" stroke-dasharray="1.15 1.52"/><line x1="676.2" y1="49.9" x2="676.2" y2="475.6" stroke="#262626" stroke-opacity="0.29" stroke-width="1.1" stroke-dasharray="1.15 1.52"/><line x1="687.9" y1="49.9" x2="687.9" y2="475.6" stroke="#262626" stroke-opacity="0.29" stroke-width="1.1" stroke-dasharray="1.15 1.52"/><line x1="699.5" y1="49.9" x2="699.5" y2="475.6" stroke="#262626" stroke-opacity="0.13" stroke-width="1.9"/><line x1="711.2" y1="49.9" x2="711.2" y2="475.6" stroke="#262626" stroke-opacity="0.29" stroke-width="1.1" stroke-dasharray="1.15 1.52"/><line x1="722.9" y1="49.9" x2="722.9" y2="475.6" stroke="#262626" stroke-opacity="0.29" stroke-width="1.1" stroke-dasharray="1.15 1.52"/><line x1="734.6" y1="49.9" x2="734.6" y2="475.6" stroke="#262626" stroke-opacity="0.29" stroke-width="1.1" stroke-dasharray="1.15 1.52"/><line x1="746.3" y1="49.9" x2="746.3" y2="475.6" stroke="#262626" stroke-opacity="0.29" stroke-width="1.1" stroke-dasharray="1.15 1.52"/><line x1="758.0" y1="49.9" x2="758.0" y2="475.6" stroke="#262626" stroke-opacity="0.29" stroke-width="1.1" stroke-dasharray="1.15 1.52"/><line x1="769.7" y1="49.9" x2="769.7" y2="475.6" stroke="#262626" stroke-opacity="0.29" stroke-width="1.1" stroke-dasharray="1.15 1.52"/><line x1="781.4" y1="49.9" x2="781.4" y2="475.6" stroke="#262626" stroke-opacity="0.29" stroke-width="1.1" stroke-dasharray="1.15 1.52"/><line x1="793.1" y1="49.9" x2="793.1" y2="475.6" stroke="#262626" stroke-opacity="0.29" stroke-width="1.1" stroke-dasharray="1.15 1.52"/><line x1="804.8" y1="49.9" x2="804.8" y2="475.6" stroke="#262626" stroke-opacity="0.13" stroke-width="1.9"/><line x1="816.5" y1="49.9" x2="816.5" y2="475.6" stroke="#262626" stroke-opacity="0.29" stroke-width="1.1" stroke-dasharray="1.15 1.52"/><line x1="828.2" y1="49.9" x2="828.2" y2="475.6" stroke="#262626" stroke-opacity="0.29" stroke-width="1.1" stroke-dasharray="1.15 1.52"/><line x1="839.9" y1="49.9" x2="839.9" y2="475.6" stroke="#262626" stroke-opacity="0.29" stroke-width="1.1" stroke-dasharray="1.15 1.52"/><line x1="851.6" y1="49.9" x2="851.6" y2="475.6" stroke="#262626" stroke-opacity="0.29" stroke-width="1.1" stroke-dasharray="1.15 1.52"/><line x1="863.3" y1="49.9" x2="863.3" y2="475.6" stroke="#262626" stroke-opacity="0.29" stroke-width="1.1" stroke-dasharray="1.15 1.52"/><line x1="875.0" y1="49.9" x2="875.0" y2="475.6" stroke="#262626" stroke-opacity="0.29" stroke-width="1.1" stroke-dasharray="1.15 1.52"/><line x1="886.7" y1="49.9" x2="886.7" y2="475.6" stroke="#262626" stroke-opacity="0.29" stroke-width="1.1" stroke-dasharray="1.15 1.52"/><line x1="898.4" y1="49.9" x2="898.4" y2="475.6" stroke="#262626" stroke-opacity="0.29" stroke-width="1.1" stroke-dasharray="1.15 1.52"/><line x1="910.0" y1="49.9" x2="910.0" y2="475.6" stroke="#262626" stroke-opacity="0.13" stroke-width="1.9"/><line x1="921.7" y1="49.9" x2="921.7" y2="475.6" stroke="#262626" stroke-opacity="0.29" stroke-width="1.1" stroke-dasharray="1.15 1.52"/><line x1="933.4" y1="49.9" x2="933.4" y2="475.6" stroke="#262626" stroke-opacity="0.29" stroke-width="1.1" stroke-dasharray="1.15 1.52"/><line x1="945.1" y1="49.9" x2="945.1" y2="475.6" stroke="#262626" stroke-opacity="0.29" stroke-width="1.1" stroke-dasharray="1.15 1.52"/><line x1="956.8" y1="49.9" x2="956.8" y2="475.6" stroke="#262626" stroke-opacity="0.29" stroke-width="1.1" stroke-dasharray="1.15 1.52"/><line x1="968.5" y1="49.9" x2="968.5" y2="475.6" stroke="#262626" stroke-opacity="0.29" stroke-width="1.1" stroke-dasharray="1.15 1.52"/><line x1="980.2" y1="49.9" x2="980.2" y2="475.6" stroke="#262626" stroke-opacity="0.29" stroke-width="1.1" stroke-dasharray="1.15 1.52"/><line x1="991.9" y1="49.9" x2="991.9" y2="475.6" stroke="#262626" stroke-opacity="0.29" stroke-width="1.1" stroke-dasharray="1.15 1.52"/><line x1="1003.6" y1="49.9" x2="1003.6" y2="475.6" stroke="#262626" stroke-opacity="0.29" stroke-width="1.1" stroke-dasharray="1.15 1.52"/><line x1="594.3" y1="454.3" x2="1015.3" y2="454.3" stroke="#262626" stroke-opacity="0.40" stroke-width="1.1" stroke-dasharray="1.15 1.52"/><line x1="594.3" y1="433.0" x2="1015.3" y2="433.0" stroke="#262626" stroke-opacity="0.40" stroke-width="1.1" stroke-dasharray="1.15 1.52"/><line x1="594.3" y1="411.7" x2="1015.3" y2="411.7" stroke="#262626" stroke-opacity="0.40" stroke-width="1.1" stroke-dasharray="1.15 1.52"/><line x1="594.3" y1="390.5" x2="1015.3" y2="390.5" stroke="#262626" stroke-opacity="0.40" stroke-width="1.1" stroke-dasharray="1.15 1.52"/><line x1="594.3" y1="369.2" x2="1015.3" y2="369.2" stroke="#262626" stroke-opacity="0.13" stroke-width="1.9"/><line x1="594.3" y1="347.9" x2="1015.3" y2="347.9" stroke="#262626" stroke-opacity="0.40" stroke-width="1.1" stroke-dasharray="1.15 1.52"/><line x1="594.3" y1="326.6" x2="1015.3" y2="326.6" stroke="#262626" stroke-opacity="0.40" stroke-width="1.1" stroke-dasharray="1.15 1.52"/><line x1="594.3" y1="305.3" x2="1015.3" y2="305.3" stroke="#262626" stroke-opacity="0.40" stroke-width="1.1" stroke-dasharray="1.15 1.52"/><line x1="594.3" y1="284.0" x2="1015.3" y2="284.0" stroke="#262626" stroke-opacity="0.40" stroke-width="1.1" stroke-dasharray="1.15 1.52"/><line x1="594.3" y1="262.8" x2="1015.3" y2="262.8" stroke="#262626" stroke-opacity="0.13" stroke-width="1.9"/><line x1="594.3" y1="241.5" x2="1015.3" y2="241.5" stroke="#262626" stroke-opacity="0.40" stroke-width="1.1" stroke-dasharray="1.15 1.52"/><line x1="594.3" y1="220.2" x2="1015.3" y2="220.2" stroke="#262626" stroke-opacity="0.40" stroke-width="1.1" stroke-dasharray="1.15 1.52"/><line x1="594.3" y1="198.9" x2="1015.3" y2="198.9" stroke="#262626" stroke-opacity="0.40" stroke-width="1.1" stroke-dasharray="1.15 1.52"/><line x1="594.3" y1="177.6" x2="1015.3" y2="177.6" stroke="#262626" stroke-opacity="0.40" stroke-width="1.1" stroke-dasharray="1.15 1.52"/><line x1="594.3" y1="156.3" x2="1015.3" y2="156.3" stroke="#262626" stroke-opacity="0.13" stroke-width="1.9"/><line x1="594.3" y1="135.0" x2="1015.3" y2="135.0" stroke="#262626" stroke-opacity="0.40" stroke-width="1.1" stroke-dasharray="1.15 1.52"/><line x1="594.3" y1="113.8" x2="1015.3" y2="113.8" stroke="#262626" stroke-opacity="0.40" stroke-width="1.1" stroke-dasharray="1.15 1.52"/><line x1="594.3" y1="92.5" x2="1015.3" y2="92.5" stroke="#262626" stroke-opacity="0.40" stroke-width="1.1" stroke-dasharray="1.15 1.52"/><line x1="594.3" y1="71.2" x2="1015.3" y2="71.2" stroke="#262626" stroke-opacity="0.40" stroke-width="1.1" stroke-dasharray="1.15 1.52"/>
<rect x="594.3" y="49.9" width="421.0" height="425.7" fill="none" stroke="#262626" stroke-width="1.4"/>
<path d="M699.5 49.9v4.3M699.5 475.6v-4.3M804.8 49.9v4.3M804.8 475.6v-4.3M910.0 49.9v4.3M910.0 475.6v-4.3M594.3 369.2h4.3M1015.3 369.2h-4.3M594.3 262.8h4.3M1015.3 262.8h-4.3M594.3 156.3h4.3M1015.3 156.3h-4.3" stroke="#262626" stroke-width="1.4" fill="none"/>
<text class="tk" x="594.3" y="508.2" text-anchor="middle">0</text>
<text class="tk" x="699.5" y="508.2" text-anchor="middle">90</text>
<text class="tk" x="804.8" y="508.2" text-anchor="middle">180</text>
<text class="tk" x="910.0" y="508.2" text-anchor="middle">270</text>
<text class="tk" x="1015.3" y="508.2" text-anchor="middle">360</text>
<text class="it" font-size="31" y="541.9" x="725.5 741.7 751.2">θ(°</text>
<text class="it" font-size="31" transform="translate(766.2,541.9) scale(1.16,1)">N</text>
<text class="it" font-size="31" y="541.9" x="794.2 805.7 820.2 835.2 845.7 860.7">),flow</text>
<text transform="translate(629.3,441) scale(1.09,1)" font-size="33.5" font-weight="bold" style="fill:#0d0d0d">S2</text>
<g>
<clipPath id="cCr"><polygon points="1284.7,175.7 1296.1,177.6 1305.0,187.1 1313.1,198.0 1325.4,203.4 1343.0,207.5 1347.1,215.6 1350.3,223.7 1348.4,238.7 1344.3,257.6 1336.2,273.9 1330.8,286.1 1319.9,288.8 1309.1,286.1 1298.2,290.2 1286.0,294.3 1271.1,295.6 1254.8,292.9 1246.2,284.8 1249.4,263.1 1252.1,241.4 1253.5,219.7 1257.5,200.7 1265.7,187.1 1273.8,179.0"/></clipPath>
<polygon points="1284.7,175.7 1296.1,177.6 1305.0,187.1 1313.1,198.0 1325.4,203.4 1343.0,207.5 1347.1,215.6 1350.3,223.7 1348.4,238.7 1344.3,257.6 1336.2,273.9 1330.8,286.1 1319.9,288.8 1309.1,286.1 1298.2,290.2 1286.0,294.3 1271.1,295.6 1254.8,292.9 1246.2,284.8 1249.4,263.1 1252.1,241.4 1253.5,219.7 1257.5,200.7 1265.7,187.1 1273.8,179.0" fill="#484ef1"/>
<g clip-path="url(#cCr)">
<polygon points="1261.6,241.4 1263.0,219.7 1272.5,206.1 1283.3,204.8 1292.8,208.8 1303.7,218.3 1319.9,226.4 1333.5,233.2 1334.8,244.1 1330.8,260.4 1321.3,273.9 1306.4,279.3 1290.1,286.1 1273.8,288.8 1261.6,279.3 1260.3,263.1" fill="#317efb" stroke="#1a1a1a" stroke-opacity="0.5" stroke-width="0.65" stroke-linejoin="round"/>
<polygon points="1265.7,244.1 1267.0,227.8 1273.8,218.3 1287.4,221.0 1300.9,229.2 1317.2,237.3 1327.5,244.1 1321.3,260.4 1311.8,269.8 1295.5,273.9 1283.3,278.0 1271.1,276.6 1265.7,263.1" fill="#1ea8e1" stroke="#1a1a1a" stroke-opacity="0.5" stroke-width="0.65" stroke-linejoin="round"/>
<polygon points="1269.8,245.4 1272.5,233.2 1282.0,229.2 1295.5,234.6 1309.1,240.0 1318.6,245.4 1309.1,257.6 1300.9,264.4 1287.4,269.8 1276.5,267.1 1271.1,257.6" fill="#22c1af" stroke="#1a1a1a" stroke-opacity="0.5" stroke-width="0.65" stroke-linejoin="round"/>
<polygon points="1274.6,245.4 1279.2,240.0 1288.7,237.3 1298.2,240.8 1306.4,246.2 1299.6,254.9 1286.0,260.9 1279.2,253.6" fill="#73cd63" stroke="#1a1a1a" stroke-opacity="0.5" stroke-width="0.65" stroke-linejoin="round"/>
<polygon points="1284.1,245.2 1289.0,244.4 1285.2,246.5" fill="#dfbc2a" stroke="#1a1a1a" stroke-opacity="0.5" stroke-width="0.65" stroke-linejoin="round"/>
</g>
<polygon points="1284.7,175.7 1296.1,177.6 1305.0,187.1 1313.1,198.0 1325.4,203.4 1343.0,207.5 1347.1,215.6 1350.3,223.7 1348.4,238.7 1344.3,257.6 1336.2,273.9 1330.8,286.1 1319.9,288.8 1309.1,286.1 1298.2,290.2 1286.0,294.3 1271.1,295.6 1254.8,292.9 1246.2,284.8 1249.4,263.1 1252.1,241.4 1253.5,219.7 1257.5,200.7 1265.7,187.1 1273.8,179.0" fill="none" stroke="#c00000" stroke-width="6.8" stroke-linejoin="round"/>
<clipPath id="cCb"><polygon points="1472.1,267.6 1482.3,270.3 1488.0,278.9 1493.6,287.9 1498.1,299.2 1498.1,315.1 1492.5,328.6 1486.8,339.9 1477.8,347.8 1468.8,351.2 1459.7,351.7 1451.8,346.7 1449.5,335.4 1445.0,321.8 1441.6,310.5 1441.2,301.5 1446.2,289.1 1452.9,278.9 1460.8,271.0"/></clipPath>
<polygon points="1472.1,267.6 1482.3,270.3 1488.0,278.9 1493.6,287.9 1498.1,299.2 1498.1,315.1 1492.5,328.6 1486.8,339.9 1477.8,347.8 1468.8,351.2 1459.7,351.7 1451.8,346.7 1449.5,335.4 1445.0,321.8 1441.6,310.5 1441.2,301.5 1446.2,289.1 1452.9,278.9 1460.8,271.0" fill="#484ef1"/>
<g clip-path="url(#cCb)">
<polygon points="1449.5,303.8 1451.8,293.6 1462.0,284.5 1472.1,280.0 1482.3,286.8 1489.1,297.0 1492.5,310.5 1488.0,324.1 1482.3,335.4 1471.0,344.4 1459.7,342.2 1455.2,330.9 1451.8,317.3" fill="#317efb" stroke="#1a1a1a" stroke-opacity="0.5" stroke-width="0.65" stroke-linejoin="round"/>
<polygon points="1455.2,306.0 1458.6,298.1 1471.0,289.7 1482.3,295.8 1488.0,306.0 1486.8,319.6 1477.8,329.7 1472.1,333.1 1465.4,330.9 1458.6,319.6" fill="#1ea8e1" stroke="#1a1a1a" stroke-opacity="0.5" stroke-width="0.65" stroke-linejoin="round"/>
<polygon points="1460.8,304.9 1471.0,295.8 1481.9,302.6 1483.4,317.3 1472.1,326.4 1462.0,318.4" fill="#22c1af" stroke="#1a1a1a" stroke-opacity="0.5" stroke-width="0.65" stroke-linejoin="round"/>
<polygon points="1471.5,301.5 1474.4,317.3 1471.5,320.0 1468.8,317.3" fill="#73cd63" stroke="#1a1a1a" stroke-opacity="0.5" stroke-width="0.65" stroke-linejoin="round"/>
</g>
<polygon points="1472.1,267.6 1482.3,270.3 1488.0,278.9 1493.6,287.9 1498.1,299.2 1498.1,315.1 1492.5,328.6 1486.8,339.9 1477.8,347.8 1468.8,351.2 1459.7,351.7 1451.8,346.7 1449.5,335.4 1445.0,321.8 1441.6,310.5 1441.2,301.5 1446.2,289.1 1452.9,278.9 1460.8,271.0" fill="none" stroke="#0b0b96" stroke-width="6.8" stroke-linejoin="round"/>
</g>
<line x1="1103.1" y1="49.9" x2="1103.1" y2="475.6" stroke="#262626" stroke-opacity="0.29" stroke-width="1.1" stroke-dasharray="1.15 1.52"/><line x1="1114.8" y1="49.9" x2="1114.8" y2="475.6" stroke="#262626" stroke-opacity="0.29" stroke-width="1.1" stroke-dasharray="1.15 1.52"/><line x1="1126.5" y1="49.9" x2="1126.5" y2="475.6" stroke="#262626" stroke-opacity="0.29" stroke-width="1.1" stroke-dasharray="1.15 1.52"/><line x1="1138.2" y1="49.9" x2="1138.2" y2="475.6" stroke="#262626" stroke-opacity="0.29" stroke-width="1.1" stroke-dasharray="1.15 1.52"/><line x1="1149.9" y1="49.9" x2="1149.9" y2="475.6" stroke="#262626" stroke-opacity="0.29" stroke-width="1.1" stroke-dasharray="1.15 1.52"/><line x1="1161.6" y1="49.9" x2="1161.6" y2="475.6" stroke="#262626" stroke-opacity="0.29" stroke-width="1.1" stroke-dasharray="1.15 1.52"/><line x1="1173.3" y1="49.9" x2="1173.3" y2="475.6" stroke="#262626" stroke-opacity="0.29" stroke-width="1.1" stroke-dasharray="1.15 1.52"/><line x1="1185.0" y1="49.9" x2="1185.0" y2="475.6" stroke="#262626" stroke-opacity="0.29" stroke-width="1.1" stroke-dasharray="1.15 1.52"/><line x1="1196.7" y1="49.9" x2="1196.7" y2="475.6" stroke="#262626" stroke-opacity="0.13" stroke-width="1.9"/><line x1="1208.3" y1="49.9" x2="1208.3" y2="475.6" stroke="#262626" stroke-opacity="0.29" stroke-width="1.1" stroke-dasharray="1.15 1.52"/><line x1="1220.0" y1="49.9" x2="1220.0" y2="475.6" stroke="#262626" stroke-opacity="0.29" stroke-width="1.1" stroke-dasharray="1.15 1.52"/><line x1="1231.7" y1="49.9" x2="1231.7" y2="475.6" stroke="#262626" stroke-opacity="0.29" stroke-width="1.1" stroke-dasharray="1.15 1.52"/><line x1="1243.4" y1="49.9" x2="1243.4" y2="475.6" stroke="#262626" stroke-opacity="0.29" stroke-width="1.1" stroke-dasharray="1.15 1.52"/><line x1="1255.1" y1="49.9" x2="1255.1" y2="475.6" stroke="#262626" stroke-opacity="0.29" stroke-width="1.1" stroke-dasharray="1.15 1.52"/><line x1="1266.8" y1="49.9" x2="1266.8" y2="475.6" stroke="#262626" stroke-opacity="0.29" stroke-width="1.1" stroke-dasharray="1.15 1.52"/><line x1="1278.5" y1="49.9" x2="1278.5" y2="475.6" stroke="#262626" stroke-opacity="0.29" stroke-width="1.1" stroke-dasharray="1.15 1.52"/><line x1="1290.2" y1="49.9" x2="1290.2" y2="475.6" stroke="#262626" stroke-opacity="0.29" stroke-width="1.1" stroke-dasharray="1.15 1.52"/><line x1="1301.9" y1="49.9" x2="1301.9" y2="475.6" stroke="#262626" stroke-opacity="0.13" stroke-width="1.9"/><line x1="1313.6" y1="49.9" x2="1313.6" y2="475.6" stroke="#262626" stroke-opacity="0.29" stroke-width="1.1" stroke-dasharray="1.15 1.52"/><line x1="1325.3" y1="49.9" x2="1325.3" y2="475.6" stroke="#262626" stroke-opacity="0.29" stroke-width="1.1" stroke-dasharray="1.15 1.52"/><line x1="1337.0" y1="49.9" x2="1337.0" y2="475.6" stroke="#262626" stroke-opacity="0.29" stroke-width="1.1" stroke-dasharray="1.15 1.52"/><line x1="1348.7" y1="49.9" x2="1348.7" y2="475.6" stroke="#262626" stroke-opacity="0.29" stroke-width="1.1" stroke-dasharray="1.15 1.52"/><line x1="1360.4" y1="49.9" x2="1360.4" y2="475.6" stroke="#262626" stroke-opacity="0.29" stroke-width="1.1" stroke-dasharray="1.15 1.52"/><line x1="1372.1" y1="49.9" x2="1372.1" y2="475.6" stroke="#262626" stroke-opacity="0.29" stroke-width="1.1" stroke-dasharray="1.15 1.52"/><line x1="1383.8" y1="49.9" x2="1383.8" y2="475.6" stroke="#262626" stroke-opacity="0.29" stroke-width="1.1" stroke-dasharray="1.15 1.52"/><line x1="1395.5" y1="49.9" x2="1395.5" y2="475.6" stroke="#262626" stroke-opacity="0.29" stroke-width="1.1" stroke-dasharray="1.15 1.52"/><line x1="1407.2" y1="49.9" x2="1407.2" y2="475.6" stroke="#262626" stroke-opacity="0.13" stroke-width="1.9"/><line x1="1418.8" y1="49.9" x2="1418.8" y2="475.6" stroke="#262626" stroke-opacity="0.29" stroke-width="1.1" stroke-dasharray="1.15 1.52"/><line x1="1430.5" y1="49.9" x2="1430.5" y2="475.6" stroke="#262626" stroke-opacity="0.29" stroke-width="1.1" stroke-dasharray="1.15 1.52"/><line x1="1442.2" y1="49.9" x2="1442.2" y2="475.6" stroke="#262626" stroke-opacity="0.29" stroke-width="1.1" stroke-dasharray="1.15 1.52"/><line x1="1453.9" y1="49.9" x2="1453.9" y2="475.6" stroke="#262626" stroke-opacity="0.29" stroke-width="1.1" stroke-dasharray="1.15 1.52"/><line x1="1465.6" y1="49.9" x2="1465.6" y2="475.6" stroke="#262626" stroke-opacity="0.29" stroke-width="1.1" stroke-dasharray="1.15 1.52"/><line x1="1477.3" y1="49.9" x2="1477.3" y2="475.6" stroke="#262626" stroke-opacity="0.29" stroke-width="1.1" stroke-dasharray="1.15 1.52"/><line x1="1489.0" y1="49.9" x2="1489.0" y2="475.6" stroke="#262626" stroke-opacity="0.29" stroke-width="1.1" stroke-dasharray="1.15 1.52"/><line x1="1500.7" y1="49.9" x2="1500.7" y2="475.6" stroke="#262626" stroke-opacity="0.29" stroke-width="1.1" stroke-dasharray="1.15 1.52"/><line x1="1091.4" y1="454.3" x2="1512.4" y2="454.3" stroke="#262626" stroke-opacity="0.40" stroke-width="1.1" stroke-dasharray="1.15 1.52"/><line x1="1091.4" y1="433.0" x2="1512.4" y2="433.0" stroke="#262626" stroke-opacity="0.40" stroke-width="1.1" stroke-dasharray="1.15 1.52"/><line x1="1091.4" y1="411.7" x2="1512.4" y2="411.7" stroke="#262626" stroke-opacity="0.40" stroke-width="1.1" stroke-dasharray="1.15 1.52"/><line x1="1091.4" y1="390.5" x2="1512.4" y2="390.5" stroke="#262626" stroke-opacity="0.40" stroke-width="1.1" stroke-dasharray="1.15 1.52"/><line x1="1091.4" y1="369.2" x2="1512.4" y2="369.2" stroke="#262626" stroke-opacity="0.13" stroke-width="1.9"/><line x1="1091.4" y1="347.9" x2="1512.4" y2="347.9" stroke="#262626" stroke-opacity="0.40" stroke-width="1.1" stroke-dasharray="1.15 1.52"/><line x1="1091.4" y1="326.6" x2="1512.4" y2="326.6" stroke="#262626" stroke-opacity="0.40" stroke-width="1.1" stroke-dasharray="1.15 1.52"/><line x1="1091.4" y1="305.3" x2="1512.4" y2="305.3" stroke="#262626" stroke-opacity="0.40" stroke-width="1.1" stroke-dasharray="1.15 1.52"/><line x1="1091.4" y1="284.0" x2="1512.4" y2="284.0" stroke="#262626" stroke-opacity="0.40" stroke-width="1.1" stroke-dasharray="1.15 1.52"/><line x1="1091.4" y1="262.8" x2="1512.4" y2="262.8" stroke="#262626" stroke-opacity="0.13" stroke-width="1.9"/><line x1="1091.4" y1="241.5" x2="1512.4" y2="241.5" stroke="#262626" stroke-opacity="0.40" stroke-width="1.1" stroke-dasharray="1.15 1.52"/><line x1="1091.4" y1="220.2" x2="1512.4" y2="220.2" stroke="#262626" stroke-opacity="0.40" stroke-width="1.1" stroke-dasharray="1.15 1.52"/><line x1="1091.4" y1="198.9" x2="1512.4" y2="198.9" stroke="#262626" stroke-opacity="0.40" stroke-width="1.1" stroke-dasharray="1.15 1.52"/><line x1="1091.4" y1="177.6" x2="1512.4" y2="177.6" stroke="#262626" stroke-opacity="0.40" stroke-width="1.1" stroke-dasharray="1.15 1.52"/><line x1="1091.4" y1="156.3" x2="1512.4" y2="156.3" stroke="#262626" stroke-opacity="0.13" stroke-width="1.9"/><line x1="1091.4" y1="135.0" x2="1512.4" y2="135.0" stroke="#262626" stroke-opacity="0.40" stroke-width="1.1" stroke-dasharray="1.15 1.52"/><line x1="1091.4" y1="113.8" x2="1512.4" y2="113.8" stroke="#262626" stroke-opacity="0.40" stroke-width="1.1" stroke-dasharray="1.15 1.52"/><line x1="1091.4" y1="92.5" x2="1512.4" y2="92.5" stroke="#262626" stroke-opacity="0.40" stroke-width="1.1" stroke-dasharray="1.15 1.52"/><line x1="1091.4" y1="71.2" x2="1512.4" y2="71.2" stroke="#262626" stroke-opacity="0.40" stroke-width="1.1" stroke-dasharray="1.15 1.52"/>
<rect x="1091.4" y="49.9" width="421.0" height="425.7" fill="none" stroke="#262626" stroke-width="1.4"/>
<path d="M1196.7 49.9v4.3M1196.7 475.6v-4.3M1301.9 49.9v4.3M1301.9 475.6v-4.3M1407.2 49.9v4.3M1407.2 475.6v-4.3M1091.4 369.2h4.3M1512.4 369.2h-4.3M1091.4 262.8h4.3M1512.4 262.8h-4.3M1091.4 156.3h4.3M1512.4 156.3h-4.3" stroke="#262626" stroke-width="1.4" fill="none"/>
<text class="tk" x="1091.4" y="508.2" text-anchor="middle">0</text>
<text class="tk" x="1196.7" y="508.2" text-anchor="middle">90</text>
<text class="tk" x="1301.9" y="508.2" text-anchor="middle">180</text>
<text class="tk" x="1407.2" y="508.2" text-anchor="middle">270</text>
<text class="tk" x="1512.4" y="508.2" text-anchor="middle">360</text>
<text class="it" font-size="31" y="541.9" x="1222.6 1238.8 1248.3">θ(°</text>
<text class="it" font-size="31" transform="translate(1263.3,541.9) scale(1.16,1)">N</text>
<text class="it" font-size="31" y="541.9" x="1291.3 1302.8 1317.3 1332.3 1342.8 1357.8">),flow</text>
<text transform="translate(1126.4,441) scale(1.09,1)" font-size="33.5" font-weight="bold" style="fill:#0d0d0d">S3</text>
<text class="tk" x="88.2" y="484.3" text-anchor="end">0</text>
<text class="tk" x="88.2" y="377.9" text-anchor="end">0.05</text>
<text class="tk" x="88.2" y="271.4" text-anchor="end">0.1</text>
<text class="tk" x="88.2" y="165.0" text-anchor="end">0.15</text>
<text class="tk" x="88.2" y="58.6" text-anchor="end">0.2</text>
<text class="it" font-size="32" transform="translate(26.6,304) rotate(-90)" x="0 19 29.5 57 72">f(Hz)</text>
<text x="30.7" y="23.9" font-size="28.3" font-weight="bold" style="font-family:'Liberation Sans',Arial,sans-serif;fill:#000">A</text>
<text x="591.0" y="23.9" font-size="28.3" font-weight="bold" style="font-family:'Liberation Sans',Arial,sans-serif;fill:#000">B</text>
<text x="1086.0" y="23.9" font-size="28.3" font-weight="bold" style="font-family:'Liberation Sans',Arial,sans-serif;fill:#000">C</text>
<rect x="1562.2" y="461.18" width="24.8" height="18.32" fill="#ffffff"/>
<rect x="1562.2" y="443.15" width="24.8" height="18.32" fill="#4331c8"/>
<rect x="1562.2" y="425.12" width="24.8" height="18.32" fill="#473ee2"/>
<rect x="1562.2" y="407.10" width="24.8" height="18.32" fill="#484ef1"/>
<rect x="1562.2" y="389.07" width="24.8" height="18.32" fill="#465dfb"/>
<rect x="1562.2" y="371.05" width="24.8" height="18.32" fill="#3f6dfe"/>
<rect x="1562.2" y="353.02" width="24.8" height="18.32" fill="#317efb"/>
<rect x="1562.2" y="335.00" width="24.8" height="18.32" fill="#2d8df2"/>
<rect x="1562.2" y="316.98" width="24.8" height="18.32" fill="#259be8"/>
<rect x="1562.2" y="298.95" width="24.8" height="18.32" fill="#1ea8e1"/>
<rect x="1562.2" y="280.93" width="24.8" height="18.32" fill="#0eb3d4"/>
<rect x="1562.2" y="262.90" width="24.8" height="18.32" fill="#03bbc2"/>
<rect x="1562.2" y="244.88" width="24.8" height="18.32" fill="#22c1af"/>
<rect x="1562.2" y="226.85" width="24.8" height="18.32" fill="#35c79a"/>
<rect x="1562.2" y="208.82" width="24.8" height="18.32" fill="#4fcc81"/>
<rect x="1562.2" y="190.80" width="24.8" height="18.32" fill="#73cd63"/>
<rect x="1562.2" y="172.78" width="24.8" height="18.32" fill="#9bc945"/>
<rect x="1562.2" y="154.75" width="24.8" height="18.32" fill="#c0c32d"/>
<rect x="1562.2" y="136.73" width="24.8" height="18.32" fill="#dfbc2a"/>
<rect x="1562.2" y="118.70" width="24.8" height="18.32" fill="#f8ba3d"/>
<rect x="1562.2" y="100.68" width="24.8" height="18.32" fill="#fec835"/>
<rect x="1562.2" y="82.65" width="24.8" height="18.32" fill="#f8d92b"/>
<rect x="1562.2" y="64.62" width="24.8" height="18.32" fill="#f5eb23"/>
<rect x="1562.2" y="46.60" width="24.8" height="18.32" fill="#f9fb15"/>
<rect x="1562.2" y="46.6" width="24.8" height="432.6" fill="none" stroke="#262626" stroke-opacity="0.75" stroke-width="0.8"/>
<path d="M1587.0 425.1h-4M1587.0 371.0h-4M1587.0 317.0h-4M1587.0 262.9h-4M1587.0 208.8h-4M1587.0 154.8h-4M1587.0 100.7h-4" stroke="#262626" stroke-width="1" fill="none"/>
<text class="tk" style="font-size:25.3px" x="1594.3" y="487.8">0</text>
<text class="tk" style="font-size:25.3px" x="1594.3" y="433.7">5</text>
<text class="tk" style="font-size:25.3px" x="1594.3" y="379.6">10</text>
<text class="tk" style="font-size:25.3px" x="1594.3" y="325.6">15</text>
<text class="tk" style="font-size:25.3px" x="1594.3" y="271.5">20</text>
<text class="tk" style="font-size:25.3px" x="1594.3" y="217.4">25</text>
<text class="tk" style="font-size:25.3px" x="1594.3" y="163.4">30</text>
<text class="tk" style="font-size:25.3px" x="1594.3" y="109.3">35</text>
<text class="tk" style="font-size:25.3px" x="1594.3" y="55.2">40</text>
<g class="it" font-size="23.3" transform="translate(1642,369.3) rotate(-90)"><text x="0.6 16.9 29.9 43.1 50.2 65.6 73.3 84.2">E(f,θ)(m</text><text x="105.6" y="-8.5" font-size="16.5">2</text><text font-size="31" transform="translate(117.2,5) scale(1.12,1)">/</text><text x="130 149.5">Hz</text><text font-size="31" transform="translate(160.7,5) scale(1.12,1)">/</text><text x="172.4 182.4 193.2 207.1">rad)</text></g>
</svg></body></html>
